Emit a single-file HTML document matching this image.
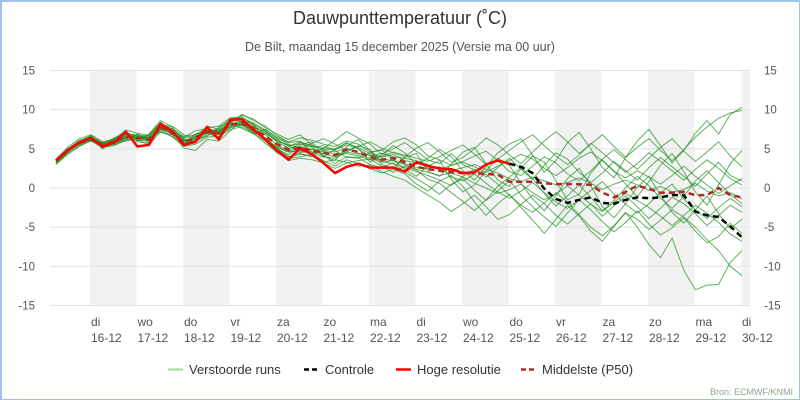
<!DOCTYPE html>
<html><head><meta charset="utf-8"><style>
body{margin:0;background:#fff;}
#c{position:relative;width:797px;height:397px;border:1px solid #9cc3ee;border-width:2px 1px 1px 2px;overflow:hidden;font-family:"Liberation Sans",sans-serif;}
svg text{font-family:"Liberation Sans",sans-serif;}
</style></head><body>
<div id="c">
<svg id="s" width="797" height="397" style="position:absolute;left:-2px;top:-2px;overflow:visible"></svg>
</div>
<script>
const dayLabels=["di","wo","do","vr","za","zo","ma","di","wo","do","vr","za","zo","ma","di"];
const dateLabels=["16-12","17-12","18-12","19-12","20-12","21-12","22-12","23-12","24-12","25-12","26-12","27-12","28-12","29-12","30-12"];
const yTicks=[-15,-10,-5,0,5,10,15];
const hres=[3.5,4.8,5.8,6.4,5.3,5.8,7.2,5.3,5.5,8.2,7.2,5.5,5.9,7.8,6.2,8.7,8.8,7.4,6.2,4.8,3.6,5.1,4.3,3.2,1.9,2.7,3.1,2.6,2.6,2.6,2.1,3.3,2.8,2.5,2.4,1.9,2.0,3.0,3.5,3.1];
const controleStart=39;
const controle=[3.1,2.7,1.9,-0.1,-1.4,-1.9,-1.5,-1.2,-1.9,-2.0,-1.5,-1.2,-1.3,-1.2,-0.9,-0.9,-3.0,-3.5,-3.7,-4.9,-6.3];
const p50=[3.5,4.8,5.7,6.3,5.5,5.9,6.5,6.4,6.2,7.8,7.0,5.9,6.4,7.2,7.0,8.1,8.3,7.6,6.6,5.6,4.9,5.1,4.8,4.5,4.2,4.9,4.6,4.0,3.6,3.8,3.3,2.7,2.4,2.2,2.0,1.9,1.9,1.8,1.7,0.8,0.8,0.8,0.6,0.5,0.5,0.5,0.4,-0.6,-1.2,-0.5,0.3,-0.1,-0.6,-0.6,-0.5,-0.9,-0.9,0.0,-0.9,-1.2];
const m1=[3.2,4.5,5.9,6.6,5.2,6.4,7.1,6.0,6.8,8.3,7.5,6.2,5.8,7.9,7.5,8.9,9.1,8.0,6.1,5.0,4.2,5.5,5.9,4.1,3.5,5.3,6.2,4.8,3.0,2.5,3.9,4.4,2.1,1.5,3.0,4.6,5.2,3.1,1.0,0.2,2.5,4.1,3.3,0.9,-1.5,-0.8,1.9,3.6,2.2,0.5,-1.1,0.8,2.9,4.4,2.1,-0.5,-2.2,0.4,3.1,4.8];
const m2=[3.6,5.0,5.5,6.0,5.8,5.5,6.2,6.9,6.0,7.4,6.5,5.5,6.9,7.0,6.4,7.7,8.0,7.2,7.0,6.0,5.5,4.4,4.0,5.2,4.8,3.9,3.8,4.5,4.9,3.6,2.4,1.5,2.8,3.5,1.1,-0.5,0.4,2.2,3.8,2.9,0.6,-1.4,-2.9,-1.0,1.2,2.5,0.3,-2.4,-3.8,-2.0,0.1,1.5,-0.9,-3.1,-4.5,-2.8,-1.0,-3.3,-5.2,-4.0];
const m3=[3.4,4.9,6.1,6.5,5.0,6.0,6.8,6.6,5.8,8.0,7.9,6.8,6.1,6.6,7.8,8.5,7.6,6.9,7.5,6.5,5.8,6.0,4.6,3.9,4.9,5.8,5.0,3.3,4.2,5.4,4.5,3.0,3.8,4.9,4.0,2.2,1.0,2.7,4.5,5.6,6.3,4.2,2.0,3.5,5.8,7.1,5.0,2.6,1.3,3.9,6.0,7.5,5.4,3.2,4.8,7.0,8.6,6.9,9.4,10.3];
const m4=[3.0,4.3,5.3,6.1,5.6,5.8,6.0,6.3,6.5,7.1,6.8,5.1,4.8,6.2,6.0,7.3,8.6,8.2,6.0,4.5,3.8,4.0,4.3,3.5,2.8,3.6,3.1,2.5,1.9,2.4,1.8,0.5,-0.4,0.9,1.6,0.2,-1.8,-3.5,-2.0,-0.8,-2.5,-4.1,-5.8,-4.0,-2.2,-3.6,-5.5,-6.8,-4.9,-3.1,-5.0,-7.2,-8.9,-6.4,-10.5,-13.0,-12.4,-12.3,-9.5,-8.0];
const m5=[3.7,5.2,6.3,6.8,5.9,6.2,7.4,7.0,6.7,8.4,7.2,6.5,7.3,7.6,6.8,8.4,9.3,8.8,7.7,6.9,6.2,6.8,5.5,5.0,6.1,7.2,6.4,5.6,4.3,5.0,5.8,4.7,3.6,3.1,4.4,3.0,2.3,1.4,2.6,3.8,2.4,1.1,2.9,4.5,3.7,2.0,0.7,1.9,3.4,2.2,1.0,2.6,3.9,2.7,1.5,0.2,1.8,3.3,1.6,0.9];
const m6=[3.3,4.6,5.6,6.2,5.1,5.6,6.3,5.9,5.7,7.5,6.9,6.0,6.6,7.3,7.2,7.9,8.2,6.9,6.0,4.9,3.9,4.5,5.0,4.2,3.1,4.0,3.9,3.0,2.6,3.2,2.0,1.2,0.3,-0.8,0.5,1.2,-0.3,-1.6,-0.4,1.0,-0.9,-2.4,-3.7,-4.9,-3.2,-1.5,-2.8,-4.3,-5.6,-4.4,-2.9,-4.6,-6.0,-5.1,-3.8,-5.5,-7.0,-6.2,-4.5,-5.8];
const m7=[3.5,4.7,5.8,6.4,5.4,6.1,6.7,6.5,6.3,7.9,7.1,5.7,6.2,7.4,7.3,8.2,8.0,7.8,7.2,5.9,5.1,5.3,4.9,4.8,4.6,5.1,4.4,4.2,3.9,4.3,3.5,3.2,2.9,2.5,2.2,2.6,3.0,2.4,1.9,1.2,0.8,1.4,0.9,0.4,0.7,1.3,0.6,-0.2,0.5,1.0,0.4,-0.3,0.2,-0.5,-0.2,0.6,-0.4,-1.0,-0.6,-1.4];
const m8=[3.4,4.8,5.7,6.2,5.3,5.7,6.6,6.1,6.0,7.6,7.3,6.3,5.9,6.8,7.6,8.6,8.5,7.1,6.3,5.2,4.6,5.8,5.3,4.0,3.8,4.6,5.4,4.9,3.4,3.1,2.6,2.1,1.6,1.0,0.3,1.5,2.4,1.7,0.5,-0.9,-2.2,-3.1,-1.9,-0.6,-1.8,-3.4,-5.0,-6.1,-4.8,-3.2,-4.0,-5.3,-4.1,-2.8,-3.7,-5.0,-6.6,-8.0,-10.0,-11.2];
const m9=[3.6,4.9,5.9,6.5,5.7,6.3,6.9,6.8,6.6,8.1,7.6,6.6,6.8,7.7,7.9,9.0,8.9,8.3,7.4,6.4,5.6,5.0,5.7,6.3,5.6,4.8,5.3,5.9,5.1,4.5,4.0,5.1,5.8,4.6,3.3,3.9,5.0,6.4,5.5,4.2,3.1,4.6,6.0,7.2,5.9,4.4,5.6,6.8,5.3,3.9,5.2,6.3,4.8,3.5,4.9,6.5,7.8,8.9,9.6,9.9];
const m10=[3.1,4.4,5.4,6.0,5.2,5.4,6.1,6.2,5.5,7.2,6.6,5.3,5.6,6.5,6.6,7.5,7.8,7.0,5.7,4.6,3.5,3.8,3.6,3.2,2.5,3.2,3.5,3.7,2.8,2.0,2.8,2.3,1.1,0.6,-0.6,-1.7,-2.9,-1.5,0.2,1.4,2.6,1.2,-0.7,-2.3,-1.0,0.4,-1.2,-2.9,-1.6,0.0,1.5,0.3,-1.3,-2.6,-1.1,0.9,2.2,0.7,-0.8,-2.0];
const m11=[3.5,4.9,5.6,6.4,5.6,6.0,6.4,6.7,6.4,7.7,7.0,6.1,6.3,7.1,6.9,8.0,8.4,7.5,6.8,5.5,4.7,4.7,4.4,4.7,4.3,4.4,4.1,3.6,3.7,3.5,3.1,2.6,2.5,2.7,1.4,0.9,1.8,0.6,-0.5,-1.3,-0.4,0.7,-0.6,-1.8,-2.6,-1.5,-0.3,0.8,-0.8,-2.1,-3.2,-2.0,-0.6,0.5,-1.4,-2.8,-3.9,-2.5,-1.3,-2.4];
const m12=[3.3,4.7,5.8,6.6,5.5,6.2,7.2,6.2,6.9,8.6,7.8,5.8,6.0,7.5,7.1,8.3,9.4,8.6,7.9,6.7,5.9,6.4,6.1,5.6,5.3,6.0,5.6,4.6,4.8,5.9,6.4,5.5,4.1,3.6,2.9,3.4,4.1,4.7,3.5,2.1,1.6,2.8,4.0,3.2,1.8,0.9,2.2,3.7,4.9,3.6,2.4,3.8,5.2,6.3,4.7,3.4,4.6,5.9,4.1,2.7];
const m13=[3.6,4.9,5.7,6.1,5.4,5.9,6.4,6.4,6.1,7.6,7.0,5.6,6.0,7.0,6.8,7.8,8.1,7.3,6.4,5.1,4.0,4.3,4.1,3.3,3.6,3.3,2.8,2.9,2.1,1.5,1.0,0.0,-0.9,-1.8,-3.0,-2.0,-0.9,-2.4,-4.0,-3.4,-2.1,-0.9,-2.0,-3.5,-4.6,-3.3,-2.0,-3.6,-2.3,-1.0,-2.4,-3.9,-2.6,-1.2,-2.0,-3.3,-4.8,-3.5,-2.2,-3.1];
const m14=[3.4,4.8,5.9,6.4,5.6,6.1,6.6,6.5,6.3,8.0,7.2,6.0,6.5,7.3,7.4,8.2,8.5,7.9,7.0,6.1,5.4,5.6,5.2,5.4,4.9,5.5,5.0,4.1,4.4,4.0,3.8,3.5,3.0,2.4,2.9,3.3,2.7,2.0,2.8,3.5,4.3,3.7,2.5,1.6,2.6,3.8,4.6,3.5,2.1,1.3,2.2,1.4,0.5,1.6,2.8,1.5,0.4,-0.7,0.3,1.2];
const m15=[3.2,4.6,5.6,6.3,5.3,5.8,6.5,6.4,6.2,7.8,6.9,5.9,6.4,7.2,7.0,8.0,8.2,7.4,6.2,5.3,4.6,4.8,4.6,4.4,4.0,4.6,4.3,3.8,3.3,3.5,3.0,2.4,2.0,1.6,1.9,1.4,0.6,0.0,-0.7,-0.2,0.5,-0.6,-1.5,-0.8,0.3,-0.9,-2.1,-3.0,-1.8,-0.7,-1.6,-2.5,-3.6,-4.8,-3.5,-2.2,-3.2,-4.4,-5.9,-6.8];
const m16=[3.5,5.0,6.0,6.7,5.8,6.3,6.9,6.6,6.5,8.2,7.4,6.4,6.7,7.6,7.2,8.6,8.7,8.1,7.3,6.2,5.3,5.9,5.4,4.9,5.0,5.7,5.2,4.4,4.0,4.6,4.2,3.8,3.4,4.0,4.8,5.5,4.3,3.0,3.7,4.8,5.9,6.8,5.4,4.1,3.0,4.2,5.7,4.5,3.2,2.0,3.1,4.5,3.4,2.2,1.0,2.4,3.6,2.5,1.2,0.4];
const members=[m1,m2,m3,m4,m5,m6,m7,m8,m9,m10,m11,m12,m13,m14,m15,m16];

const NS="http://www.w3.org/2000/svg";
const svg=document.getElementById('s');
const L=50,R=750,T=70,B=305;
function x(i){return 56+i*11.625;}
function y(v){return 188-v*(B-T)/30;}
function dayX(d){return 90+d*46.5;}
function mk(tag,attrs,parent){const e=document.createElementNS(NS,tag);for(const k in attrs)e.setAttribute(k,attrs[k]);(parent||svg).appendChild(e);return e;}

for(let d=0;d<15;d+=2){
  const x0=dayX(d),x1=Math.min(dayX(d+1),R);
  const r=mk('rect',{x:x0,y:T,width:x1-x0,height:B-T,fill:'#f2f2f2'});
  
  
}
yTicks.forEach(t=>{
  const g=mk('line',{x1:L,x2:R,y1:y(t),y2:y(t),stroke:'#e3e3e3','stroke-width':1});
  
  
  const a=mk('text',{x:35,y:y(t)+4,'text-anchor':'end','font-size':11.5,fill:'#555'});a.textContent=t;
  
  
  const b=mk('text',{x:764,y:y(t)+4,'text-anchor':'start','font-size':11.5,fill:'#555'});b.textContent=t;
  
  
});
dayLabels.forEach((d,i)=>{
  const t1=mk('text',{x:dayX(i)+1,y:326,'font-size':12,fill:'#555'});t1.textContent=d;
  
  
  const t2=mk('text',{x:dayX(i)+1,y:342,'font-size':12,fill:'#555'});t2.textContent=dateLabels[i];
  
  
});
function path(vals,start){return vals.map((v,i)=>(i?'L':'M')+x(i+start).toFixed(1)+','+y(v).toFixed(1)).join('');}
members.forEach(m=>{
  const p=mk('path',{d:path(m,0),fill:'none',stroke:'#1f8f1f','stroke-width':1,'stroke-opacity':0.7});
  
  
});
const pp=mk('path',{d:path(p50,0),fill:'none',stroke:'#b02a2a','stroke-width':2.5,'stroke-dasharray':'6,4'});


const cp=mk('path',{d:path(controle,controleStart),fill:'none',stroke:'#000','stroke-width':2.5,'stroke-dasharray':'6,4'});


const hp=mk('path',{d:path(hres,0),fill:'none',stroke:'#f00','stroke-width':2.5,'stroke-linejoin':'round'});



const tt=mk('text',{x:400,y:24,'text-anchor':'middle','font-size':18,fill:'#333'});tt.textContent='Dauwpunttemperatuur (˚C)';


const st=mk('text',{x:400,y:51,'text-anchor':'middle','font-size':12.5,fill:'#555'});st.textContent='De Bilt, maandag 15 december 2025 (Versie ma 00 uur)';


const leg=[["Verstoorde runs",168,'#a8d8a8',2,'',189],["Controle",304,'#000',2.5,'5,3',325],["Hoge resolutie",396,'#f00',2.5,'',417],["Middelste (P50)",521,'#b02a2a',2.5,'5,3',542]];
leg.forEach(l=>{
  const g=mk('g',{});
  
  
  mk('line',{x1:l[1],x2:l[1]+15,y1:369.5,y2:369.5,stroke:l[2],'stroke-width':l[3],'stroke-dasharray':l[4]},g);
  const t=mk('text',{x:l[5],y:374,'font-size':13,fill:'#333'},g);t.textContent=l[0];
});
const cr=mk('text',{x:793,y:395,'text-anchor':'end','font-size':9,fill:'#999'});cr.textContent='Bron: ECMWF/KNMI';


</script>
</body></html>
